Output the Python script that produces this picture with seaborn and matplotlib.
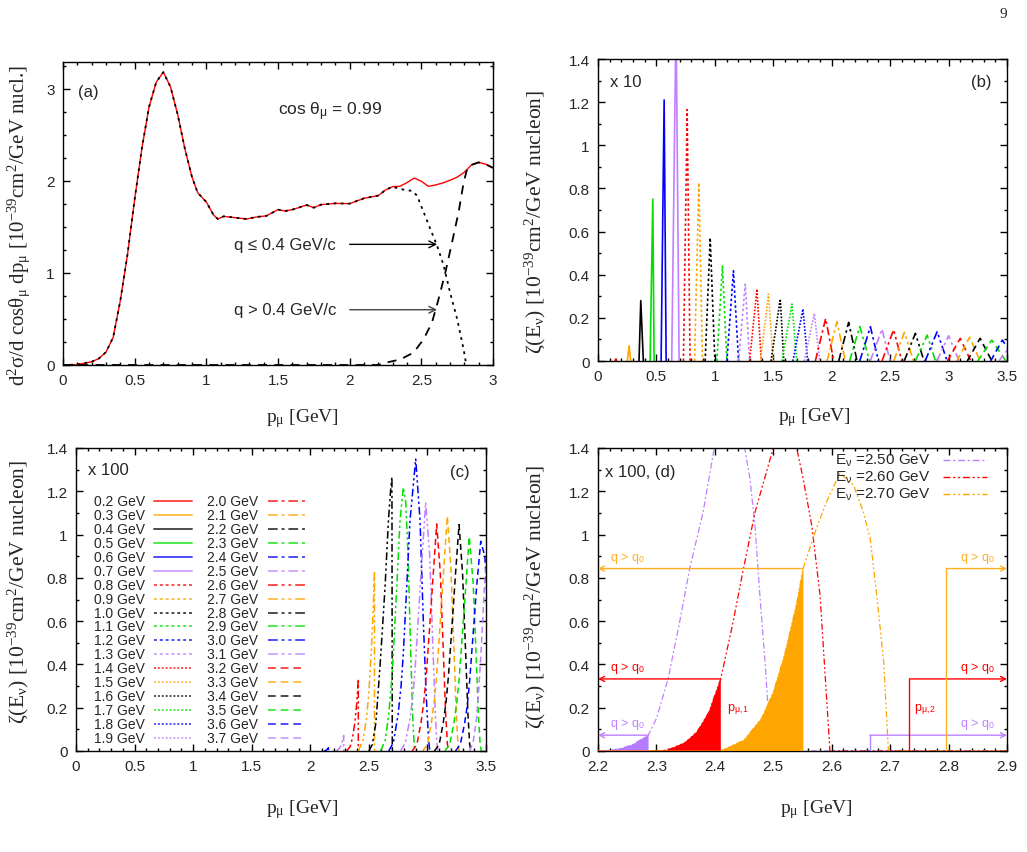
import matplotlib
matplotlib.use("Agg")
import matplotlib.pyplot as plt
import matplotlib.ticker as mticker
import seaborn as sns

# ---------- panel (a): double differential cross section, cos(theta_mu)=0.99 ----------
a_p = [0.0, 0.1, 0.15, 0.2, 0.25, 0.3, 0.35, 0.4, 0.45, 0.5, 0.55, 0.6, 0.65, 0.7,
       0.75, 0.8, 0.85, 0.9, 0.94, 1.0, 1.05, 1.08, 1.12, 1.2, 1.28, 1.35, 1.42, 1.5,
       1.55, 1.6, 1.7, 1.75, 1.8, 1.9, 2.0, 2.1, 2.2, 2.25, 2.3, 2.35, 2.4, 2.45, 2.5,
       2.55, 2.6, 2.65, 2.7, 2.75, 2.8, 2.85, 2.9, 2.95, 3.0]
a_total = [0.0, 0.005, 0.02, 0.035, 0.07, 0.14, 0.3, 0.7, 1.2, 1.8, 2.35, 2.8, 3.07, 3.18,
           3.02, 2.72, 2.35, 2.04, 1.87, 1.77, 1.63, 1.585, 1.614, 1.6, 1.585, 1.607, 1.62, 1.687,
           1.672, 1.687, 1.737, 1.708, 1.741, 1.755, 1.752, 1.81, 1.84, 1.9, 1.937, 1.94, 1.98, 2.03, 1.995,
           1.94, 1.955, 1.977, 2.006, 2.04, 2.093, 2.173, 2.2, 2.18, 2.14]
# q <= 0.4 GeV/c follows the total up to p = 2.3, then falls off
a_low_tail_p = [2.353, 2.435, 2.47, 2.516, 2.562, 2.61, 2.656, 2.70, 2.75, 2.795, 2.814]
a_low_tail = [1.91, 1.89, 1.84, 1.66, 1.48, 1.295, 1.08, 0.79, 0.50, 0.17, 0.0]
a_high_p = [0.0, 2.2, 2.236, 2.353, 2.446, 2.516, 2.574, 2.62, 2.667, 2.714, 2.76, 2.795,
            2.823, 2.85, 2.9, 2.95, 3.0]
a_high = [0.0, 0.0, 0.02, 0.06, 0.135, 0.28, 0.46, 0.715, 1.0, 1.33, 1.66, 1.98,
          2.15, 2.173, 2.2, 2.18, 2.14]

# ---------- neutrino energies (legend of panel c) ----------
energies = [0.2, 0.3, 0.4, 0.5, 0.6, 0.7, 0.8, 0.9, 1.0, 1.1, 1.2, 1.3,
            1.4, 1.5, 1.6, 1.7, 1.8, 1.9, 2.0, 2.1, 2.2, 2.3, 2.4, 2.5,
            2.6, 2.7, 2.8, 2.9, 3.0, 3.1, 3.2, 3.3, 3.4, 3.5, 3.6, 3.7]

# ---------- panel (b): zeta(E_nu) x 10, one peak per energy ----------
b_peak_x = [0.154, 0.266, 0.366, 0.469, 0.566, 0.668, 0.763, 0.863, 0.96, 1.065, 1.159, 1.26,
            1.36, 1.459, 1.56, 1.66, 1.754, 1.851, 1.948, 2.045, 2.145, 2.24, 2.331, 2.43,
            2.53, 2.622, 2.716, 2.817, 2.902, 3.0, 3.10, 3.18, 3.27, 3.37, 3.46, 3.56]
b_peak_y = [0.01, 0.071, 0.28, 0.75, 1.21, 1.6, 1.165, 0.826, 0.571, 0.44, 0.418, 0.356,
            0.333, 0.31, 0.287, 0.264, 0.241, 0.22, 0.197, 0.182, 0.179, 0.16, 0.159, 0.148,
            0.145, 0.133, 0.128, 0.12, 0.136, 0.117, 0.105, 0.11, 0.105, 0.097, 0.097, 0.09]
b_left = [0.145, 0.251, 0.351, 0.446, 0.54, 0.631, 0.731, 0.826, 0.917, 1.017, 1.103, 1.203,
          1.297, 1.39, 1.48, 1.574, 1.668, 1.765, 1.86, 1.96, 2.06, 2.153, 2.24, 2.33,
          2.43, 2.53, 2.62, 2.716, 2.80, 2.90, 2.99, 3.07, 3.16, 3.25, 3.36, 3.43]
b_right = [0.16, 0.28, 0.388, 0.48, 0.583, 0.694, 0.788, 0.894, 1.0, 1.103, 1.203, 1.297,
           1.397, 1.50, 1.59, 1.70, 1.794, 1.897, 2.017, 2.117, 2.217, 2.325, 2.40, 2.50,
           2.60, 2.70, 2.79, 2.888, 2.988, 3.09, 3.19, 3.27, 3.37, 3.49, 3.58, 3.68]

# ---------- panel (c): zeta(E_nu) x 100 for q > q0 ----------
c_energy = [2.4, 2.5, 2.6, 2.7, 2.8, 2.9, 3.0, 3.1, 3.2, 3.3, 3.4, 3.5, 3.6, 3.7]
c_x = [
    [2.12, 2.14, 2.155, 2.155],
    [2.22, 2.25, 2.27, 2.285, 2.285],
    [2.31, 2.34, 2.36, 2.38, 2.395, 2.41, 2.41],
    [2.41, 2.45, 2.48, 2.50, 2.52, 2.535, 2.548, 2.548],
    [2.50, 2.53, 2.56, 2.595, 2.62, 2.638, 2.667, 2.685, 2.697, 2.70],
    [2.60, 2.64, 2.67, 2.695, 2.709, 2.738, 2.766, 2.794, 2.815, 2.835, 2.855, 2.875, 2.89],
    [2.67, 2.71, 2.75, 2.775, 2.794, 2.823, 2.851, 2.9, 2.937, 2.965, 2.99, 3.01, 3.02],
    [2.77, 2.81, 2.85, 2.875, 2.895, 2.925, 2.955, 2.985, 3.02, 3.045, 3.065, 3.08, 3.09],
    [2.87, 2.91, 2.945, 2.97, 2.99, 3.02, 3.05, 3.079, 3.11, 3.135, 3.155, 3.17, 3.18],
    [2.96, 3.0, 3.035, 3.06, 3.08, 3.11, 3.14, 3.17, 3.20, 3.225, 3.245, 3.26, 3.27],
    [3.06, 3.10, 3.135, 3.16, 3.18, 3.21, 3.24, 3.27, 3.30, 3.325, 3.345, 3.36, 3.37],
    [3.15, 3.19, 3.225, 3.25, 3.27, 3.30, 3.33, 3.357, 3.39, 3.415, 3.435, 3.45, 3.46],
    [3.24, 3.28, 3.315, 3.34, 3.36, 3.39, 3.42, 3.455, 3.49, 3.52, 3.55, 3.57],
    [3.36, 3.39, 3.42, 3.44, 3.46, 3.49, 3.52, 3.55, 3.6],
]
c_y = [
    [0.0, 0.005, 0.015, 0.0],
    [0.0, 0.012, 0.035, 0.072, 0.0],
    [0.0, 0.02, 0.06, 0.13, 0.21, 0.333, 0.0],
    [0.0, 0.05, 0.15, 0.27, 0.45, 0.63, 0.83, 0.0],
    [0.0, 0.03, 0.13, 0.39, 0.6, 0.756, 1.064, 1.2, 1.265, 0.0],
    [0.0, 0.05, 0.17, 0.33, 0.448, 0.756, 1.064, 1.218, 1.15, 0.9, 0.5, 0.15, 0.0],
    [0.0, 0.04, 0.17, 0.3, 0.448, 0.756, 1.064, 1.349, 1.064, 0.6, 0.25, 0.05, 0.0],
    [0.0, 0.035, 0.145, 0.25, 0.38, 0.64, 0.9, 1.149, 0.9, 0.51, 0.2, 0.04, 0.0],
    [0.0, 0.03, 0.13, 0.23, 0.35, 0.58, 0.82, 1.049, 0.82, 0.47, 0.18, 0.035, 0.0],
    [0.0, 0.03, 0.135, 0.24, 0.36, 0.6, 0.85, 1.085, 0.85, 0.49, 0.19, 0.035, 0.0],
    [0.0, 0.03, 0.13, 0.23, 0.35, 0.58, 0.82, 1.046, 0.82, 0.47, 0.18, 0.035, 0.0],
    [0.0, 0.03, 0.125, 0.22, 0.33, 0.55, 0.78, 0.99, 0.78, 0.45, 0.17, 0.03, 0.0],
    [0.0, 0.03, 0.12, 0.21, 0.32, 0.54, 0.76, 0.969, 0.9, 0.6, 0.2, 0.0],
    [0.0, 0.04, 0.15, 0.3, 0.48, 0.79, 0.95, 0.97, 0.6],
]

# ---------- panel (d): zoom on E = 2.5, 2.6, 2.7 GeV ----------
d_energy = [2.5, 2.6, 2.7]
d_x = [
    [2.2, 2.22, 2.24, 2.26, 2.286, 2.30, 2.32, 2.34, 2.357, 2.38, 2.399, 2.425, 2.451,
     2.46, 2.469, 2.477, 2.486, 2.491, 2.50, 2.505, 2.9],
    [2.2, 2.30, 2.32, 2.35, 2.37, 2.39, 2.41, 2.43, 2.449, 2.469, 2.50, 2.52, 2.54,
     2.551, 2.566, 2.58, 2.591, 2.597, 2.9],
    [2.2, 2.41, 2.45, 2.48, 2.50, 2.52, 2.54, 2.551, 2.574, 2.591, 2.614, 2.637, 2.654,
     2.666, 2.677, 2.689, 2.697, 2.9],
]
d_y = [
    [0.0, 0.002, 0.012, 0.03, 0.073, 0.15, 0.333, 0.6, 0.843, 1.106, 1.40, 1.48, 1.40,
     1.26, 1.03, 0.72, 0.41, 0.2, 0.05, 0.0, 0.0],
    [0.0, 0.0, 0.005, 0.04, 0.09, 0.18, 0.333, 0.58, 0.843, 1.106, 1.40, 1.46, 1.40,
     1.26, 1.04, 0.72, 0.255, 0.0, 0.0],
    [0.0, 0.0, 0.05, 0.15, 0.27, 0.45, 0.68, 0.843, 1.03, 1.15, 1.284, 1.23, 1.106,
     0.98, 0.72, 0.41, 0.0, 0.0],
]
d_p1 = [2.286, 2.41, 2.551]     # lower edge of q > q0 (p_mu,1)
d_p2 = [2.665, 2.733, 2.796]    # upper edge of q > q0 (p_mu,2)
d_h = [0.073, 0.333, 0.843]     # height of the q > q0 markers

COLORS = ["#ff0000", "#ffa500", "#000000", "#00e000", "#0000ff", "#c080ff"]
STYLES = ["-", (0, (1.5, 1.5)), (0, (1, 1)), (0, (5, 2, 1.5, 2)),
          (0, (5, 2, 1.5, 2, 1.5, 2)), (0, (4, 2.5))]


def style_of(E):
    i = energies.index(E)
    return COLORS[i % 6], STYLES[i // 6]


def setup(ax, xlim, ylim, xmaj, xmin, ymaj, ymin):
    ax.set_xlim(*xlim)
    ax.set_ylim(*ylim)
    ax.xaxis.set_major_locator(mticker.MultipleLocator(xmaj))
    ax.xaxis.set_minor_locator(mticker.MultipleLocator(xmin))
    ax.yaxis.set_major_locator(mticker.MultipleLocator(ymaj))
    ax.yaxis.set_minor_locator(mticker.MultipleLocator(ymin))
    fmt = mticker.FuncFormatter(lambda v, _: f"{v:g}")
    ax.xaxis.set_major_formatter(fmt)
    ax.yaxis.set_major_formatter(fmt)
    ax.tick_params(which="both", direction="in", top=True, right=True,
                   labelsize=11, pad=6, width=1.0, color="black")
    ax.tick_params(which="major", length=5)
    ax.tick_params(which="minor", length=2.5)
    for s in ax.spines.values():
        s.set_linewidth(1.0)
        s.set_color("black")
    ax.grid(False)


SERIF = "Liberation Serif"
ZETA_LABEL = r"ζ(E$_\mathrm{ν}$) [10$^\mathrm{-39}$cm$^\mathrm{2}$/GeV nucleon]"
P_LABEL = r"p$_\mathrm{μ}$ [GeV]"


def line(ax, xs, ys, color, ls, lw, z=2):
    sns.lineplot(x=xs, y=ys, sort=False, estimator=None, color=color,
                 linestyle=ls, lw=lw, ax=ax, legend=False, zorder=z)


def main():
    sns.set_theme(style="ticks")
    plt.rcParams["font.family"] = ["Liberation Sans", "DejaVu Sans"]
    plt.rcParams["mathtext.fontset"] = "custom"
    plt.rcParams["mathtext.rm"] = SERIF
    plt.rcParams["mathtext.it"] = SERIF + ":italic"
    plt.rcParams["mathtext.sf"] = "Liberation Sans"

    W, H = 1027, 853
    fig = plt.figure(figsize=(W / 100, H / 100), dpi=100)
    fig.patch.set_facecolor("white")

    ax_a = fig.add_axes([63 / W, 1 - 366 / H, 430 / W, 303 / H])
    ax_b = fig.add_axes([598 / W, 1 - 362 / H, 409 / W, 302 / H])
    ax_c = fig.add_axes([76 / W, 1 - 752 / H, 410 / W, 303 / H])
    ax_d = fig.add_axes([598 / W, 1 - 752 / H, 409 / W, 303 / H])

    # ---------- (a) ----------
    line(ax_a, a_p, a_total, "#ff0000", "-", 1.0)
    low_p = [p for p in a_p if p <= 2.3] + a_low_tail_p
    low_v = [v for p, v in zip(a_p, a_total) if p <= 2.3] + a_low_tail
    line(ax_a, low_p, low_v, "black", (0, (1.5, 2.5)), 1.3, z=3)
    line(ax_a, a_high_p, a_high, "black", (0, (5, 4)), 1.3, z=3)
    setup(ax_a, (0, 3), (0, 3.29), 0.5, 0.1, 1, 0.25)
    ax_a.text(0.104, 2.975, "(a)", fontsize=12, va="center")
    ax_a.text(1.497, 2.76, r"cos θ$_\mathsf{μ}$ = 0.99", fontsize=12.5, va="center")
    for y, txt, col in [(1.31, "q ≤ 0.4 GeV/c", "black"), (0.6, "q > 0.4 GeV/c", "#444444")]:
        ax_a.text(1.19, y, txt, fontsize=12, va="center")
        ax_a.annotate("", xy=(2.61, y), xytext=(2.0, y),
                      arrowprops=dict(arrowstyle="->", lw=1.0, color=col,
                                      shrinkA=0, shrinkB=0, mutation_scale=12))
    ax_a.set_xlabel(P_LABEL, family=SERIF, fontsize=14, va="center")
    ax_a.xaxis.set_label_coords(0.557, -0.172)
    ax_a.set_ylabel(r"d$^\mathrm{2}$σ/d cosθ$_\mathrm{μ}$ dp$_\mathrm{μ}$ "
                    r"[10$^\mathrm{-39}$cm$^\mathrm{2}$/GeV nucl.]",
                    family=SERIF, fontsize=15, va="center")
    ax_a.yaxis.set_label_coords(-0.102, 0.465)

    # ---------- (b) ----------
    for i, E in enumerate(energies):
        col, ls = style_of(E)
        line(ax_b, [b_left[i], b_peak_x[i], b_right[i]], [0, b_peak_y[i], 0], col, ls, 1.2)
    setup(ax_b, (0, 3.5), (0, 1.4), 0.5, 0.1, 0.2, 0.1)
    ax_b.text(0.029, 0.927, "x 10", transform=ax_b.transAxes, fontsize=12, va="center")
    ax_b.text(0.963, 0.924, "(b)", transform=ax_b.transAxes, fontsize=12,
              va="center", ha="right")
    ax_b.set_xlabel(P_LABEL, family=SERIF, fontsize=14, va="center")
    ax_b.xaxis.set_label_coords(0.53, -0.185)
    ax_b.set_ylabel(ZETA_LABEL, family=SERIF, fontsize=15.5, va="center")
    ax_b.yaxis.set_label_coords(-0.154, 0.464)

    # ---------- (c) ----------
    for E, xs, ys in zip(c_energy, c_x, c_y):
        col, ls = style_of(E)
        line(ax_c, xs, ys, col, ls, 1.1)
    setup(ax_c, (0, 3.5), (0, 1.4), 0.5, 0.1, 0.2, 0.1)
    ax_c.text(0.029, 0.93, "x 100", transform=ax_c.transAxes, fontsize=12, va="center")
    ax_c.text(0.959, 0.924, "(c)", transform=ax_c.transAxes, fontsize=12,
              va="center", ha="right")
    # two-column key: label, then sample line
    for i, E in enumerate(energies):
        col, ls = style_of(E)
        c_idx, r_idx = divmod(i, 18)
        y = 0.825 - r_idx * 0.046
        tx = [0.168, 0.444][c_idx]
        lx = [(0.190, 0.283), (0.468, 0.561)][c_idx]
        ax_c.text(tx, y, f"{E:.1f} GeV", transform=ax_c.transAxes, fontsize=10,
                  ha="right", va="center")
        ax_c.plot(lx, [y, y], transform=ax_c.transAxes, color=col, linestyle=ls,
                  lw=1.4, alpha=0.7)
    ax_c.set_xlabel(P_LABEL, family=SERIF, fontsize=14, va="center")
    ax_c.xaxis.set_label_coords(0.552, -0.19)
    ax_c.set_ylabel(ZETA_LABEL, family=SERIF, fontsize=15.5, va="center")
    ax_c.yaxis.set_label_coords(-0.141, 0.528)

    # ---------- (d) ----------
    fill_cols = ["#b57cff", "#ff0000", "#ffa500"]
    mark_cols = ["#c080ff", "#ff0000", "#ffb020"]
    for k, E in enumerate(d_energy):
        col, ls = style_of(E)
        xs, ys = d_x[k], d_y[k]
        line(ax_d, xs, ys, col, ls, 0.9)
        # shaded q > q0 part below p_mu,1
        fx = [x for x in xs if x <= d_p1[k]] + [d_p1[k]]
        fy = [y for x, y in zip(xs, ys) if x <= d_p1[k]] + [0.0]
        ax_d.fill(fx, fy, facecolor=fill_cols[k], edgecolor=fill_cols[k], lw=0.3, zorder=3)
        mc = mark_cols[k]
        h = d_h[k]
        ax_d.plot([d_p2[k], d_p2[k]], [0, h], color=mc, lw=1.0, zorder=4)
        ax_d.annotate("", xy=(2.2, h), xytext=(d_p1[k], h), annotation_clip=False,
                      arrowprops=dict(arrowstyle="->", lw=1.0, color=mc,
                                      shrinkA=0, shrinkB=0, mutation_scale=9), zorder=4)
        ax_d.annotate("", xy=(2.9, h), xytext=(d_p2[k], h), annotation_clip=False,
                      arrowprops=dict(arrowstyle="->", lw=1.0, color=mc,
                                      shrinkA=0, shrinkB=0, mutation_scale=9), zorder=4)
        for tx in (2.2205, 2.82):
            ax_d.text(tx, h + 0.052, r"q > q$_\mathsf{0}$", color=mc, fontsize=9,
                      va="center")
    ax_d.text(2.421, 0.194, r"p$_\mathsf{μ,1}$", color="#ff0000", fontsize=9, va="center")
    ax_d.text(2.741, 0.194, r"p$_\mathsf{μ,2}$", color="#ff0000", fontsize=9, va="center")
    setup(ax_d, (2.2, 2.9), (0, 1.4), 0.1, 0.02, 0.2, 0.1)
    ax_d.text(0.017, 0.924, "x 100, (d)", transform=ax_d.transAxes, fontsize=12,
              va="center")
    for k, E in enumerate(d_energy):
        col, ls = style_of(E)
        y = 0.960 - k * 0.056
        ax_d.text(0.814, y, rf"E$_\mathsf{{ν}}$ ={E:.2f} GeV", transform=ax_d.transAxes,
                  fontsize=11, ha="right", va="center", zorder=5)
        ax_d.plot([0.8435, 0.951], [y, y], transform=ax_d.transAxes, color=col,
                  linestyle=ls, lw=1.0)
    ax_d.set_xlabel(P_LABEL, family=SERIF, fontsize=14, va="center")
    ax_d.xaxis.set_label_coords(0.533, -0.19)
    ax_d.set_ylabel(ZETA_LABEL, family=SERIF, fontsize=15.5, va="center")
    ax_d.yaxis.set_label_coords(-0.154, 0.51)

    fig.text(1003 / W, 1 - 15 / H, "9", family=SERIF, fontsize=11,
             ha="center", va="center")

    fig.savefig("out.png", dpi=100, facecolor="white")
    plt.close(fig)


if __name__ == "__main__":
    main()
